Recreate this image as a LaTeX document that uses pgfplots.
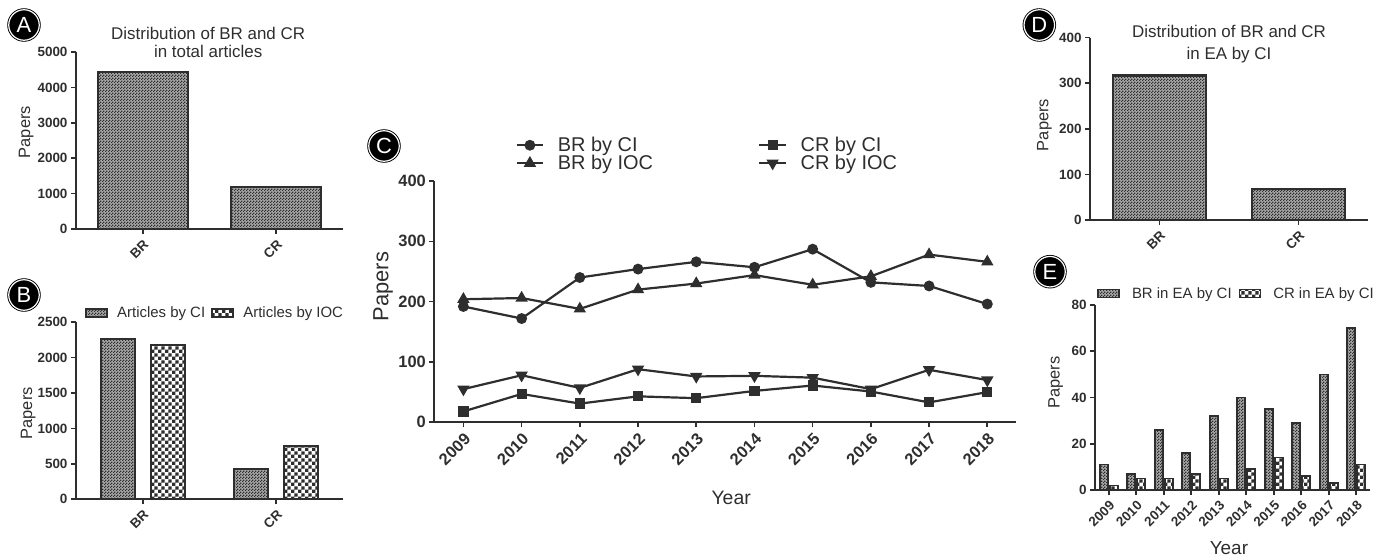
\documentclass[border=0pt]{standalone}
\usepackage{fontspec}
\setmainfont{Liberation Sans}
\usepackage{pgfplots}
\pgfplotsset{compat=1.18}
\usetikzlibrary{patterns}
\definecolor{dk}{HTML}{2E2E2E}
\definecolor{midg}{HTML}{A8A8A8}
\pgfdeclarepatternformonly{finecheck}{\pgfqpoint{0bp}{0bp}}{\pgfqpoint{2.6bp}{2.6bp}}{\pgfqpoint{2.6bp}{2.6bp}}{%
  \pgfpathrectangle{\pgfqpoint{0bp}{0bp}}{\pgfqpoint{1.3bp}{1.3bp}}%
  \pgfpathrectangle{\pgfqpoint{1.3bp}{1.3bp}}{\pgfqpoint{1.3bp}{1.3bp}}%
  \pgfusepath{fill}}
\pgfdeclarepatternformonly{bigcheck}{\pgfqpoint{0bp}{0bp}}{\pgfqpoint{7.2bp}{7.2bp}}{\pgfqpoint{7.2bp}{7.2bp}}{%
  \pgfpathrectangle{\pgfqpoint{0bp}{0bp}}{\pgfqpoint{3.6bp}{3.6bp}}%
  \pgfpathrectangle{\pgfqpoint{3.6bp}{3.6bp}}{\pgfqpoint{3.6bp}{3.6bp}}%
  \pgfusepath{fill}}
\newcommand{\fs}[1]{\fontsize{#1}{#1}\selectfont}
\pgfplotsset{
  gp/.style={
    scale only axis, anchor=south west,
    axis x line*=bottom, axis y line*=left,
    axis line style={line width=1.8bp, dk},
    every tick/.style={line width=1.6bp, dk},
    tick align=outside, major tick length=5bp,
    /pgf/number format/assume math mode=true,
    /pgf/number format/1000 sep={},
    scaled ticks=false,
    ticklabel style={font=\bfseries\fs{13.5}, text=dk},
    label style={font=\fs{16.5}, text=dk},
    clip=false, ymin=0,
  },
  cibar/.style={draw=dk, line width=2.2bp, fill=midg, postaction={pattern=finecheck, pattern color=dk}},
  iocbar/.style={draw=dk, line width=2.2bp, fill=white, postaction={pattern=bigcheck, pattern color=dk}},
  barleg/.style={legend image code/.code={\draw[##1, line width=1.6bp] (0bp,-4bp) rectangle (21bp,4bp);}},
}
\tikzset{plab/.style={circle, fill=black, draw=black, double=white, double distance=1.2bp, line width=0.9bp, minimum size=30.5bp, inner sep=0pt, text=white, font=\fs{22}}}
\begin{document}
\begin{tikzpicture}
\path[use as bounding box] (0,0) rectangle (1386bp,557bp);
% ---------- A ----------
\begin{axis}[gp, ybar, at={(76bp,328bp)}, width=267bp, height=177bp,
  xmin=-0.5, xmax=1.5, ymax=5000, ytick={0,1000,...,5000},
  xtick={0,1}, xticklabels={BR,CR}, xticklabel style={rotate=45, anchor=north east},
  ylabel={Papers}, ylabel style={at={(axis description cs:-0.187,0.547)}, anchor=center}]
\addplot[cibar, bar width=90bp, bar shift=0bp] coordinates {(0,4440) (1,1180)};
\node[anchor=base, font=\fs{17}, text=dk] at (axis description cs:0.495,1.068) {Distribution of BR and CR};
\node[anchor=base, font=\fs{17}, text=dk] at (axis description cs:0.495,0.970) {in total articles};
\end{axis}
% ---------- B ----------
\begin{axis}[gp, ybar, barleg, at={(76bp,57.7bp)}, width=267bp, height=177bp,
  xmin=-0.5, xmax=1.5, ymax=2500, ytick={0,500,...,2500},
  xtick={0,1}, xticklabels={BR,CR}, xticklabel style={rotate=45, anchor=north east},
  ylabel={Papers}, ylabel style={at={(axis description cs:-0.179,0.486)}, anchor=center},
  legend columns=2,
  legend style={draw=none, fill=none, at={(axis description cs:0.034,1.054)}, anchor=west,
    font=\fs{15}, text=dk, inner sep=0pt, nodes={inner xsep=0bp, inner ysep=1bp},
    /tikz/every odd column/.append style={column sep=9.3bp},
    /tikz/every even column/.append style={column sep=6.3bp}}]
\addplot[cibar, bar width=34bp, bar shift=-25bp] coordinates {(0,2260) (1,428)};
\addplot[iocbar, bar width=34bp, bar shift=25bp] coordinates {(0,2180) (1,758)};
\legend{Articles by CI, Articles by IOC}
\end{axis}
% ---------- C ----------
\begin{axis}[gp, at={(434.3bp,134.7bp)}, width=582.1bp, height=241.3bp,
  xmin=2008.5, xmax=2018.5, ymax=400, ytick={0,100,...,400},
  xtick={2009,...,2018}, xticklabel style={rotate=45, anchor=north east},
  ticklabel style={font=\bfseries\fs{16.5}},
  ylabel={Papers}, ylabel style={font=\fs{22}, at={(axis description cs:-0.088,0.562)}, anchor=center},
  xlabel={Year}, xlabel style={font=\fs{19.5}, at={(axis description cs:0.51,-0.315)}, anchor=center},
  legend columns=2,
  legend image code/.code={\draw[mark repeat=2, mark phase=2, #1] plot coordinates {(0bp,0bp) (13.4bp,0bp) (26.8bp,0bp)};},
  legend style={draw=none, fill=none, at={(axis description cs:0.139,1.111)}, anchor=west,
    font=\fs{20}, text=dk, inner sep=0pt, nodes={inner xsep=0bp, inner ysep=1bp},
    /tikz/every odd column/.append style={column sep=13.5bp},
    /tikz/every even column/.append style={column sep=105bp}},
  legend cell align=left]
\addplot[dk, line width=2.2bp, mark=*, mark size=4.3bp, mark options={solid, fill=dk}] coordinates {
 (2009,192) (2010,172) (2011,240) (2012,254) (2013,266) (2014,257) (2015,287) (2016,232) (2017,226) (2018,196)};
\addplot[dk, line width=2.2bp, mark=square*, mark size=4bp, mark options={solid, fill=dk}] coordinates {
 (2009,18) (2010,47) (2011,31) (2012,43) (2013,40) (2014,52) (2015,61) (2016,51) (2017,33) (2018,50)};
\addplot[dk, line width=2.2bp, mark=triangle*, mark size=5bp, mark options={solid, fill=dk}] coordinates {
 (2009,204) (2010,206) (2011,188) (2012,220) (2013,230) (2014,244) (2015,228) (2016,242) (2017,278) (2018,266)};
\addplot[dk, line width=2.2bp, mark=triangle*, mark size=5bp, mark options={solid, fill=dk, rotate=180}] coordinates {
 (2009,55) (2010,78) (2011,57) (2012,88) (2013,76) (2014,77) (2015,74) (2016,55) (2017,87) (2018,70)};
\legend{BR by CI, CR by CI, BR by IOC, CR by IOC}
\end{axis}
% ---------- D ----------
\begin{axis}[gp, ybar, at={(1090bp,337bp)}, width=278bp, height=182.3bp,
  xmin=-0.5, xmax=1.5, ymax=400, ytick={0,100,...,400},
  xtick={0,1}, xticklabels={BR,CR}, xticklabel style={rotate=45, anchor=north east},
  ylabel={Papers}, ylabel style={at={(axis description cs:-0.164,0.521)}, anchor=center}]
\addplot[cibar, bar width=92.7bp, bar shift=0bp] coordinates {(0,317) (1,68)};
\node[anchor=base, font=\fs{17}, text=dk] at (axis description cs:0.5,1.0) {Distribution of BR and CR};
\node[anchor=base, font=\fs{17}, text=dk] at (axis description cs:0.5,0.878) {in EA by CI};
\end{axis}
% ---------- E ----------
\begin{axis}[gp, ybar, barleg, at={(1095bp,67bp)}, width=275bp, height=185bp,
  xmin=-0.5, xmax=9.5, ymax=80, ytick={0,20,...,80},
  xtick={0,...,9}, xticklabels={2009,2010,2011,2012,2013,2014,2015,2016,2017,2018},
  xticklabel style={rotate=45, anchor=north east},
  ylabel={Papers}, ylabel style={at={(axis description cs:-0.143,0.581)}, anchor=center},
  xlabel={Year}, xlabel style={font=\fs{19}, at={(axis description cs:0.487,-0.315)}, anchor=center},
  legend columns=2,
  legend style={draw=none, fill=none, at={(axis description cs:0.008,1.063)}, anchor=west,
    font=\fs{15}, text=dk, inner sep=0pt, nodes={inner xsep=0bp, inner ysep=1bp},
    /tikz/every odd column/.append style={column sep=12bp},
    /tikz/every even column/.append style={column sep=7bp}}]
\addplot[cibar, line width=1.6bp, bar width=8bp, bar shift=-5bp] coordinates {
 (0,11) (1,7) (2,26) (3,16) (4,32) (5,40) (6,35) (7,29) (8,50) (9,70)};
\addplot[iocbar, line width=1.6bp, bar width=8bp, bar shift=5bp] coordinates {
 (0,2) (1,5) (2,5) (3,7) (4,5) (5,9) (6,14) (7,6) (8,3) (9,11)};
\legend{BR in EA by CI, CR in EA by CI}
\end{axis}
% ---------- panel labels ----------
\node[plab] at (24bp,532bp) {A};
\node[plab] at (24bp,262bp) {B};
\node[plab] at (384bp,411bp) {C};
\node[plab] at (1039.3bp,532bp) {D};
\node[plab] at (1050bp,285.3bp) {E};
\end{tikzpicture}
\end{document}
